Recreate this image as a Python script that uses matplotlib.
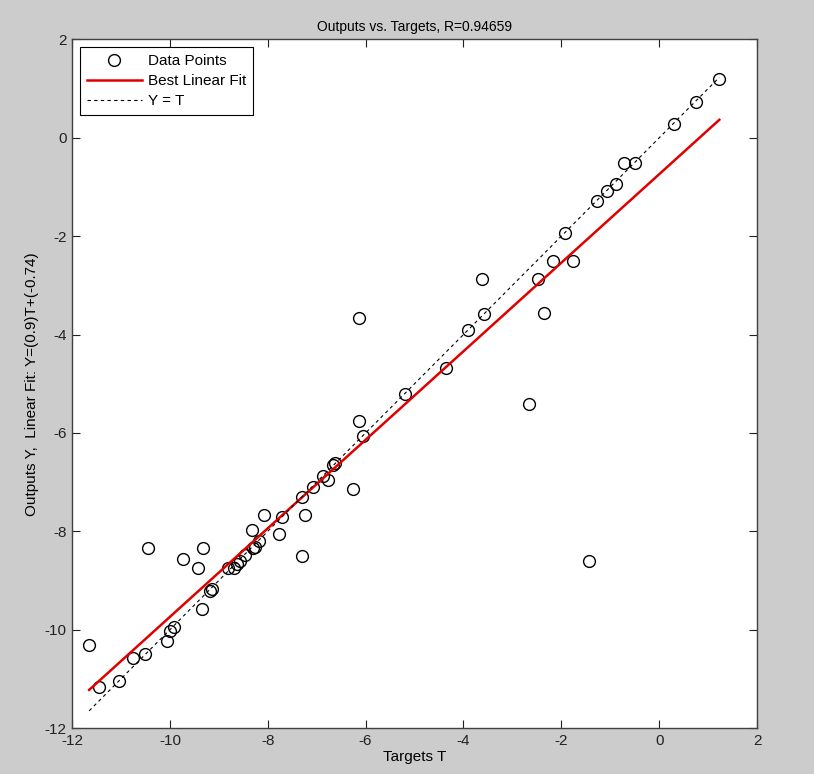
import numpy as np
import matplotlib
matplotlib.use("Agg")
import matplotlib.pyplot as plt

plt.rcParams['font.family'] = ['Liberation Sans Narrow', 'Liberation Sans', 'DejaVu Sans']
plt.rcParams['axes.unicode_minus'] = False

# targets T and network outputs Y
targets = [1.23, 0.76, 0.30, -0.50, -0.72, -0.88, -1.07, -1.28, -1.92, -2.18,
           -1.77, -2.48, -3.63, -2.35, -3.57, -3.90, -4.36, -5.19, -2.66, -6.14,
           -6.14, -6.05, -6.66, -6.62, -6.77, -6.87, -7.07, -6.26, -7.30, -7.24,
           -7.70, -1.43, -7.29, -7.78, -8.07, -8.33, -8.17, -8.26, -8.31, -8.46,
           -8.57, -8.63, -8.69, -8.81, -9.14, -9.18, -9.32, -9.34, -9.42, -9.73,
           -9.92, -10.00, -10.05, -10.44, -10.50, -10.75, -11.03, -11.44, -11.65]
outputs = [1.20, 0.72, 0.28, -0.52, -0.52, -0.93, -1.09, -1.28, -1.93, -2.51,
           -2.51, -2.87, -2.87, -3.57, -3.59, -3.91, -4.68, -5.21, -5.41, -3.66,
           -5.76, -6.07, -6.66, -6.62, -6.96, -6.88, -7.10, -7.14, -7.30, -7.66,
           -7.70, -8.60, -8.50, -8.06, -7.66, -7.97, -8.19, -8.31, -8.34, -8.49,
           -8.61, -8.66, -8.75, -8.75, -9.17, -9.21, -8.34, -9.58, -8.74, -8.57,
           -9.94, -10.02, -10.23, -8.33, -10.49, -10.58, -11.05, -11.17, -10.31]

slope = 0.9
intercept = -0.74
r_value = 0.94659

t = np.array(targets)
y = np.array(outputs)
t_line = np.array([t.min(), t.max()])

fig = plt.figure(figsize=(8.14, 7.74), dpi=100, facecolor='#cccccc')
ax = fig.add_axes([0.0885, 0.0594, 0.8415, 0.8896])
ax.set_facecolor('white')

ax.plot(t, y, 'o', mfc='none', mec='black', ms=8.5, mew=1.0, label='Data Points')
ax.plot(t_line, slope * t_line + intercept, color='#e00000', lw=1.8, label='Best Linear Fit')
ax.plot(t_line, t_line, color='black', ls=(0, (3, 3)), lw=0.8, label='Y = T')

ax.set_xlim(-12, 2)
ax.set_ylim(-12, 2)
ax.set_xticks(np.arange(-12, 3, 2))
ax.set_yticks(np.arange(-12, 3, 2))
ax.tick_params(direction='in', length=6, width=0.8, top=True, right=True,
               labelsize=11, colors='#222222', pad=4)
for s in ax.spines.values():
    s.set_color('#404040')
    s.set_linewidth(1.0)

ax.set_title('Outputs vs. Targets, R=%.5f' % r_value, fontsize=10, pad=6)
ax.set_xlabel('Targets T', fontsize=11, labelpad=2)
ax.set_ylabel('Outputs Y,  Linear Fit: Y=(%.1f)T+(%.2f)' % (slope, intercept), fontsize=11, labelpad=4)

leg = ax.legend(loc='upper left', fontsize=11, fancybox=False, framealpha=1,
                edgecolor='black', borderpad=0.45, labelspacing=0.4,
                handlelength=3.6, handletextpad=0.4, borderaxespad=0.5)
leg.get_frame().set_linewidth(0.8)

fig.savefig('out.png', dpi=100, facecolor=fig.get_facecolor())
